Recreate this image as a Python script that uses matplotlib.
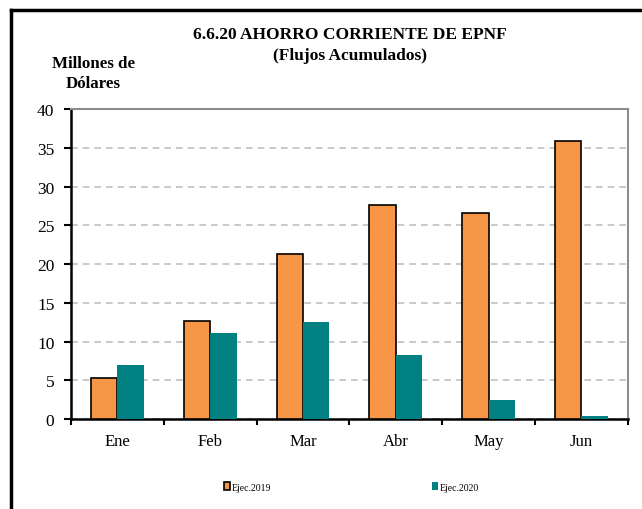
import numpy as np
import matplotlib.pyplot as plt
from matplotlib.lines import Line2D

meses = ["Ene", "Feb", "Mar", "Abr", "May", "Jun"]
ejec_2019 = [5.3, 12.6, 21.3, 27.6, 26.6, 35.9]
ejec_2020 = [7.0, 11.1, 12.5, 8.3, 2.5, 0.4]

plt.rcParams["font.family"] = ["Liberation Serif", "DejaVu Serif"]

fig = plt.figure(figsize=(6.42, 5.10), dpi=100)
ax = fig.add_axes([0.1106, 0.1765, 0.8674, 0.6075])

x = np.arange(len(meses))
w = 0.285
b1 = ax.bar(x - w / 2, ejec_2019, w, color="#F79646", edgecolor="black",
            linewidth=1.2, label="Ejec.2019", zorder=3)
b2 = ax.bar(x + w / 2, ejec_2020, w, color="#008080", linewidth=0,
            label="Ejec.2020", zorder=3)

ax.set_xlim(-0.5, len(meses) - 0.5)
ax.set_ylim(0, 40)
ax.set_yticks(range(0, 41, 5))
ax.set_xticks(x)
ax.set_xticklabels(meses)
ax.set_xticks(np.arange(-0.5, len(meses)), minor=True)
ax.tick_params(axis="x", which="major", length=0, labelsize=12, pad=10)
ax.tick_params(axis="x", which="minor", length=4, width=1.5, direction="out")
ax.tick_params(axis="y", length=5, width=1.5, labelsize=12.5, pad=7,
               direction="out")

# dashed grid lines
ax.yaxis.grid(True, linestyle=(0, (4, 3)), color="#c0c0c0", linewidth=1.2, zorder=0)

for s in ["left", "bottom"]:
    ax.spines[s].set_color("black")
    ax.spines[s].set_linewidth(1.8)
for s in ["top", "right"]:
    ax.spines[s].set_color("#8c8c8c")
    ax.spines[s].set_linewidth(1.5)

fig.text(0.545, 0.931, "6.6.20 AHORRO CORRIENTE DE EPNF", ha="center", va="center",
         fontsize=12.5, fontweight="bold")
fig.text(0.545, 0.891, "(Flujos Acumulados)", ha="center", va="center",
         fontsize=12.5, fontweight="bold")
fig.text(0.145, 0.875, "Millones de", ha="center", va="center",
         fontsize=12.2, fontweight="bold")
fig.text(0.145, 0.835, "Dólares", ha="center", va="center",
         fontsize=12.2, fontweight="bold")

fig.legend(handles=[b1, b2], loc="center", bbox_to_anchor=(0.5475, 0.043),
           ncol=2, frameon=False, fontsize=7, handlelength=0.6, handleheight=0.9,
           handletextpad=0.2, columnspacing=16.5)

# outer frame (left and top only visible)
fig.add_artist(Line2D([0.0171, 0.0171], [0, 0.978], color="black", linewidth=2.5,
                      transform=fig.transFigure))
fig.add_artist(Line2D([0.0171, 1.0], [0.978, 0.978], color="black", linewidth=2.5,
                      transform=fig.transFigure))

fig.savefig("out.png", dpi=100)
